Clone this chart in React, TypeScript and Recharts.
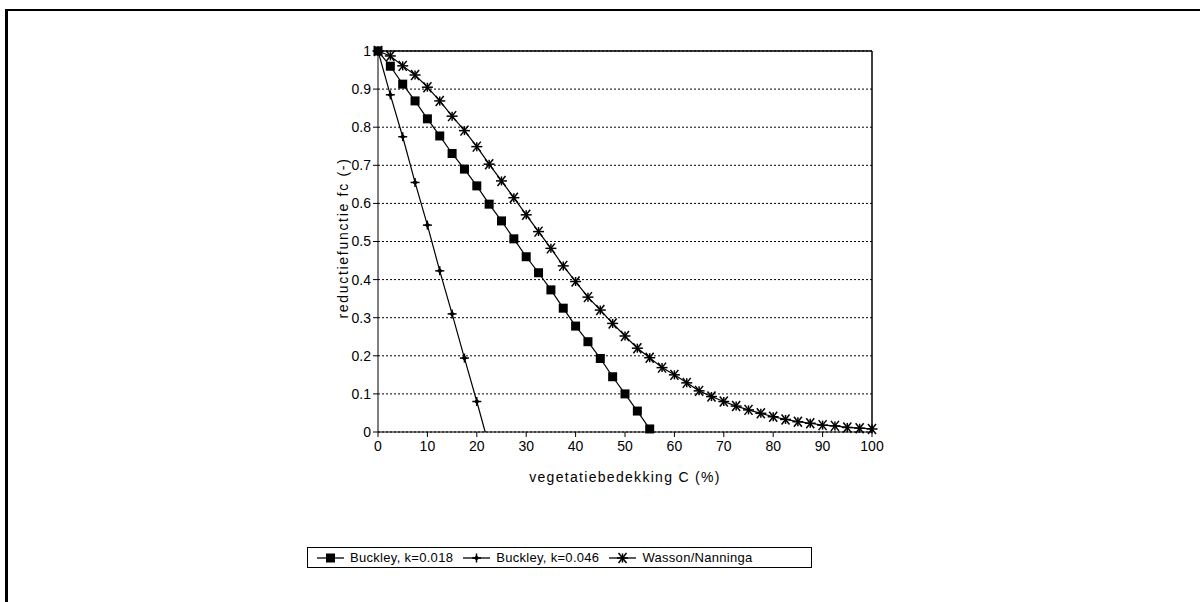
import { LineChart, Line, XAxis, YAxis, CartesianGrid, ReferenceLine, Legend, Label } from "recharts";

// vegetatiebedekking C (%) per punt, stap 2.5
const buckley018X = [0, 2.5, 5, 7.5, 10, 12.5, 15, 17.5, 20, 22.5, 25, 27.5, 30, 32.5, 35, 37.5, 40, 42.5, 45, 47.5, 50, 52.5, 55];
const buckley018Y = [1, 0.96, 0.913, 0.869, 0.822, 0.777, 0.731, 0.69, 0.646, 0.598, 0.554, 0.507, 0.46, 0.418, 0.373, 0.325, 0.278, 0.237, 0.193, 0.145, 0.1, 0.055, 0.008];

// laatste punt = snijpunt met de as (geen marker)
const buckley046X = [0, 2.5, 5, 7.5, 10, 12.5, 15, 17.5, 20, 21.7];
const buckley046Y = [1, 0.885, 0.775, 0.655, 0.543, 0.423, 0.31, 0.194, 0.08, 0];

const wassonX = [
  0, 2.5, 5, 7.5, 10, 12.5, 15, 17.5, 20, 22.5, 25, 27.5, 30, 32.5, 35, 37.5, 40, 42.5, 45, 47.5, 50,
  52.5, 55, 57.5, 60, 62.5, 65, 67.5, 70, 72.5, 75, 77.5, 80, 82.5, 85, 87.5, 90, 92.5, 95, 97.5, 100,
];
const wassonY = [
  1, 0.987, 0.961, 0.937, 0.905, 0.869, 0.829, 0.791, 0.749, 0.703, 0.659, 0.615, 0.57, 0.526, 0.482, 0.436,
  0.395, 0.354, 0.32, 0.285, 0.252, 0.22, 0.195, 0.169, 0.15, 0.129, 0.108, 0.093, 0.08, 0.068, 0.058, 0.049,
  0.04, 0.033, 0.027, 0.023, 0.018, 0.016, 0.012, 0.01, 0.008,
];

const xTicks = [0, 10, 20, 30, 40, 50, 60, 70, 80, 90, 100];
const yTicks = [0, 0.1, 0.2, 0.3, 0.4, 0.5, 0.6, 0.7, 0.8, 0.9, 1];

const seriesNames = ["Buckley, k=0.018", "Buckley, k=0.046", "Wasson/Nanninga"];

const toPoints = (xs: number[], ys: number[]) => xs.map((x, i) => ({ x, y: ys[i] }));

const FONT = "'Liberation Sans', Arial, sans-serif";

function Square({ cx, cy }: { cx: number; cy: number }) {
  return <rect x={cx - 4.5} y={cy - 4.5} width={9} height={9} fill="#000" />;
}

function Plus({ cx, cy }: { cx: number; cy: number }) {
  return (
    <g stroke="#000" strokeWidth={1.5}>
      <line x1={cx - 4.5} y1={cy} x2={cx + 4.5} y2={cy} />
      <line x1={cx} y1={cy - 4.5} x2={cx} y2={cy + 4.5} />
      <rect x={cx - 2} y={cy - 2} width={4} height={4} fill="#000" stroke="none" transform={`rotate(45 ${cx} ${cy})`} />
    </g>
  );
}

function Star({ cx, cy }: { cx: number; cy: number }) {
  return (
    <g stroke="#000" strokeWidth={1.5}>
      <line x1={cx - 5.5} y1={cy} x2={cx + 5.5} y2={cy} />
      <line x1={cx - 4} y1={cy - 5} x2={cx + 4} y2={cy + 5} />
      <line x1={cx - 4} y1={cy + 5} x2={cx + 4} y2={cy - 5} />
      <line x1={cx} y1={cy - 4.5} x2={cx} y2={cy + 4.5} />
    </g>
  );
}

const markers = [Square, Plus, Star];

function LegendBox() {
  return (
    <div
      style={{
        border: "1.5px solid #000",
        height: 21,
        display: "flex",
        alignItems: "center",
        paddingLeft: 9,
        fontFamily: FONT,
        fontSize: 13,
        letterSpacing: 0.3,
        color: "#000",
        boxSizing: "border-box",
      }}
    >
      {seriesNames.map((name, i) => {
        const M = markers[i];
        return (
          <div key={name} style={{ display: "flex", alignItems: "center", marginRight: 10 }}>
            <svg width={27} height={14} style={{ marginRight: 6 }}>
              <line x1={0} y1={7} x2={27} y2={7} stroke="#000" strokeWidth={1.3} />
              <M cx={13.5} cy={7} />
            </svg>
            <span>{name}</span>
          </div>
        );
      })}
    </div>
  );
}

const titleStyle = { fill: "#000", fontSize: 14, fontFamily: FONT, letterSpacing: 1.3 };

export default function App() {
  const tickStyle = { fill: "#000", fontSize: 14, fontFamily: FONT };
  return (
    <div style={{ position: "fixed", left: 0, top: 0, width: 1200, height: 602, background: "#fff" }}>
      <div style={{ position: "absolute", left: 5, top: 9, width: 1195, height: 2, background: "#000" }} />
      <div style={{ position: "absolute", left: 5, top: 9, width: 3, height: 593, background: "#000" }} />
      <LineChart width={1200} height={602} margin={{ top: 51, right: 328, bottom: 140, left: 318 }}>
        <CartesianGrid vertical={false} stroke="#000" strokeDasharray="2 2" strokeWidth={1} />
        <XAxis
          type="number"
          dataKey="x"
          domain={[0, 100]}
          ticks={xTicks}
          interval={0}
          height={30}
          stroke="#000"
          tickSize={5}
          tickMargin={4}
          tick={tickStyle}
        >
          <Label
            content={() => (
              <text x={625} y={482} textAnchor="middle" style={titleStyle}>
                vegetatiebedekking C (%)
              </text>
            )}
          />
        </XAxis>
        <YAxis
          type="number"
          dataKey="y"
          domain={[0, 1]}
          ticks={yTicks}
          interval={0}
          width={60}
          stroke="#000"
          tickSize={5}
          tick={tickStyle}
          tickFormatter={(v: number) => (v === 0 || v === 1 ? String(v) : v.toFixed(1))}
        >
          <Label
            content={() => (
              <text
                x={348}
                y={238}
                textAnchor="middle"
                transform="rotate(-90 348 238)"
                style={{ ...titleStyle, letterSpacing: 1.7 }}
              >
                reductiefunctie fc (-)
              </text>
            )}
          />
        </YAxis>
        <ReferenceLine y={1} stroke="#000" strokeWidth={1.5} />
        <ReferenceLine x={100} stroke="#000" strokeWidth={1.5} />
        <Line
          data={toPoints(buckley018X, buckley018Y)}
          dataKey="y"
          stroke="#000"
          strokeWidth={1.2}
          isAnimationActive={false}
          dot={(p: any) => <Square key={p.index} cx={p.cx} cy={p.cy} />}
        />
        <Line
          data={toPoints(buckley046X, buckley046Y)}
          dataKey="y"
          stroke="#000"
          strokeWidth={1.2}
          isAnimationActive={false}
          dot={(p: any) =>
            p.index === buckley046X.length - 1 ? <g key={p.index} /> : <Plus key={p.index} cx={p.cx} cy={p.cy} />
          }
        />
        <Line
          data={toPoints(wassonX, wassonY)}
          dataKey="y"
          stroke="#000"
          strokeWidth={1.2}
          isAnimationActive={false}
          dot={(p: any) => <Star key={p.index} cx={p.cx} cy={p.cy} />}
        />
        <Legend
          layout="horizontal"
          verticalAlign="middle"
          align="center"
          content={() => <LegendBox />}
          wrapperStyle={{ position: "absolute", left: 307, top: 547, width: 505, height: 22 }}
        />
      </LineChart>
    </div>
  );
}
